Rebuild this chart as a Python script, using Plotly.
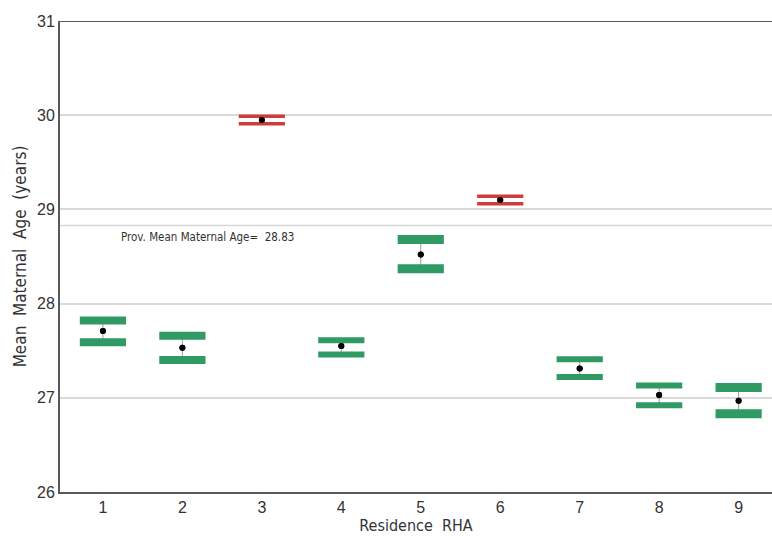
import plotly.graph_objects as go

rha = [1, 2, 3, 4, 5, 6, 7, 8, 9]
mean_age = [27.71, 27.53, 29.95, 27.55, 28.52, 29.10, 27.31, 27.03, 26.97]
upper_ci = [27.82, 27.66, 29.99, 27.61, 28.68, 29.14, 27.41, 27.13, 27.11]
lower_ci = [27.59, 27.40, 29.91, 27.46, 28.37, 29.06, 27.22, 26.92, 26.83]
significant_high = [False, False, True, False, False, True, False, False, False]
prov_mean = 28.83
y_ticks = [26, 27, 28, 29, 30, 31]

GREEN = "#2f9a63"
RED = "#cf3c3c"
cond_font = "Liberation Sans Narrow, DejaVu Sans Condensed, Arial Narrow, sans-serif"

colors = [RED if s else GREEN for s in significant_high]
thick = [8, 8, 3.5, 6, 9, 3.5, 6, 6, 9]

fig = go.Figure()

# thin connector lines + mean dots
fig.add_trace(go.Scatter(
    x=rha, y=mean_age, mode="markers",
    marker=dict(color="black", size=6),
    error_y=dict(type="data", symmetric=False,
                 array=[u - m for u, m in zip(upper_ci, mean_age)],
                 arrayminus=[m - l for m, l in zip(mean_age, lower_ci)],
                 width=0, thickness=1, color="#9a9a9a"),
    showlegend=False, hoverinfo="skip"))

for vals in (upper_ci, lower_ci):
    fig.add_trace(go.Scatter(
        x=rha, y=vals, mode="markers",
        marker=dict(symbol="line-ew", size=33,
                    line=dict(color=colors, width=thick)),
        showlegend=False, hoverinfo="skip"))

# mean dots on top
fig.add_trace(go.Scatter(
    x=rha, y=mean_age, mode="markers",
    marker=dict(color="black", size=6),
    showlegend=False, hoverinfo="skip"))

# provincial mean reference line
fig.add_shape(type="line", xref="paper", x0=0, x1=1, yref="y", y0=prov_mean, y1=prov_mean,
              line=dict(color="#d6d6d6", width=1.5), layer="below")
# top border
fig.add_shape(type="line", xref="paper", x0=0, x1=1, yref="y", y0=31, y1=31,
              line=dict(color="#5a5a5a", width=2))

fig.add_annotation(x=1.2, y=prov_mean, xref="x", yref="y",
                   text="Prov. Mean Maternal Age=  28.83", showarrow=False,
                   xanchor="left", yanchor="top", yshift=-3,
                   font=dict(family=cond_font, size=11.5, color="#333333"))

fig.update_layout(
    width=772, height=536,
    margin=dict(l=60, r=0, t=21, b=44),
    paper_bgcolor="white", plot_bgcolor="white",
    xaxis=dict(range=[0.46, 9.42], tickvals=rha, ticktext=[str(v) for v in rha],
               showgrid=False, zeroline=False, showline=True, linecolor="#5a5a5a", linewidth=2,
               ticks="", tickfont=dict(family="Liberation Sans, Arial, sans-serif", size=16, color="#333333"),
               title=dict(text="Residence  RHA", standoff=3,
                          font=dict(family=cond_font, size=16, color="#333333"))),
    yaxis=dict(range=[26, 31], tickvals=y_ticks, ticktext=[str(v) for v in y_ticks],
               showgrid=True, gridcolor="#d9d9d9", gridwidth=1.5, zeroline=False,
               showline=True, linecolor="#5a5a5a", linewidth=2, ticks="",
               tickfont=dict(family="Liberation Sans, Arial, sans-serif", size=16, color="#333333"),
               title=dict(text="Mean  Maternal  Age  (years)", standoff=6,
                          font=dict(family=cond_font, size=17, color="#333333"))),
)

fig.write_html("out.html")
